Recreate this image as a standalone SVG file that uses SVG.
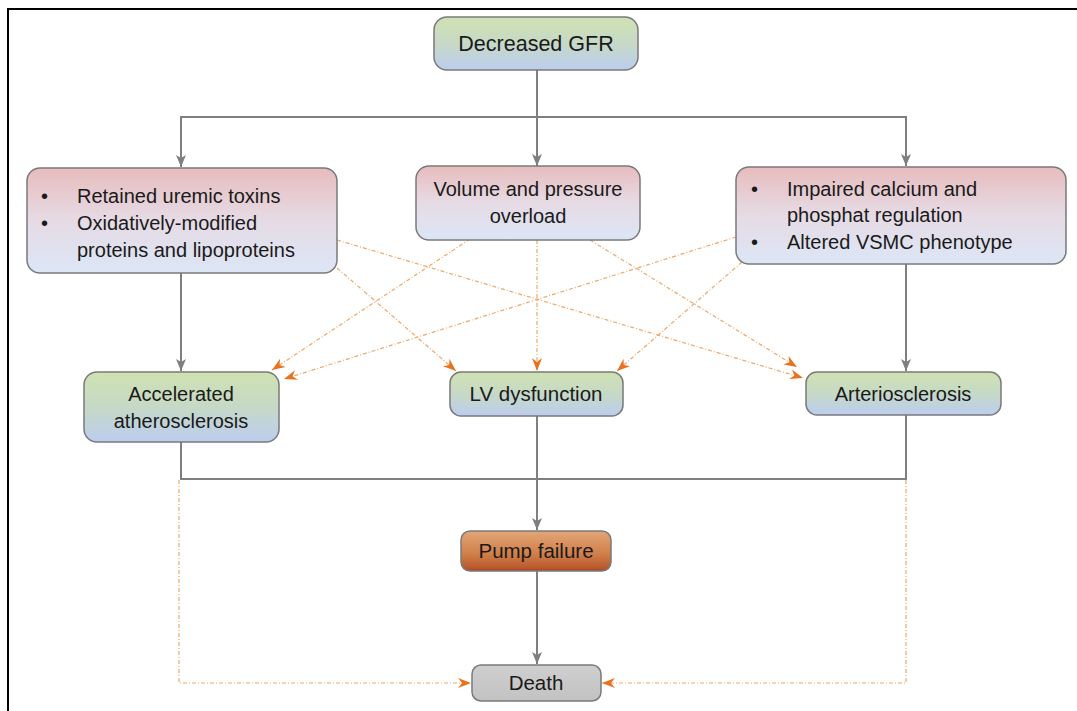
<svg xmlns="http://www.w3.org/2000/svg" width="1077" height="711" viewBox="0 0 1077 711">
<defs>
<linearGradient id="gRed" x1="0" y1="0" x2="0" y2="1">
<stop offset="0" stop-color="#e7bcbd"/>
<stop offset="0.5" stop-color="#e6dbe5"/>
<stop offset="1" stop-color="#dce6f6"/>
</linearGradient>
<linearGradient id="gGreen" x1="0" y1="0" x2="0" y2="1">
<stop offset="0" stop-color="#cfe2b2"/>
<stop offset="0.5" stop-color="#c6d9c6"/>
<stop offset="1" stop-color="#bccdf0"/>
</linearGradient>
<linearGradient id="gOrange" x1="0" y1="0" x2="0" y2="1">
<stop offset="0" stop-color="#e4a677"/>
<stop offset="0.6" stop-color="#cf7d48"/>
<stop offset="0.92" stop-color="#b8592c"/>
<stop offset="1" stop-color="#b0402a"/>
</linearGradient>
<linearGradient id="gGray" x1="0" y1="0" x2="0" y2="1">
<stop offset="0" stop-color="#cfcfcf"/>
<stop offset="1" stop-color="#c2c2c2"/>
</linearGradient>
<marker id="ag" markerUnits="userSpaceOnUse" markerWidth="12" markerHeight="12" refX="12" refY="6" orient="auto">
<path d="M0,1 L12,6 L0,11 L3,6 z" fill="#7f7f7f"/>
</marker>
<marker id="ao" markerUnits="userSpaceOnUse" markerWidth="13" markerHeight="12" refX="13" refY="6" orient="auto">
<path d="M0,1 L13,6 L0,11 L4,6 z" fill="#e8731e"/>
</marker>
</defs>
<style>
.box{stroke:#7a7a7a;stroke-width:1.5}
.t{font-family:"Liberation Sans",Arial,sans-serif;font-size:20px;fill:#1a1a1a}
.c{text-anchor:middle}
.g{fill:none;stroke:#7f7f7f;stroke-width:2}
.o{fill:none;stroke:#eea769;stroke-width:1.2;stroke-dasharray:4 2 1 2}
</style>
<rect width="1077" height="711" fill="#ffffff"/>
<path d="M8,711 L8,9 L1077,9" fill="none" stroke="#000" stroke-width="2"/>
<g id="connectors">
<path class="g" d="M537,70 L537,166" marker-end="url(#ag)"/>
<path class="g" d="M181,117 L906,117"/>
<path class="g" d="M181,116 L181,167" marker-end="url(#ag)"/>
<path class="g" d="M906,116 L906,166" marker-end="url(#ag)"/>
<path class="g" d="M181,273 L181,371" marker-end="url(#ag)"/>
<path class="g" d="M906,264 L906,371" marker-end="url(#ag)"/>
<path class="g" d="M181,442 L181,479 L906,479 L906,415"/>
<path class="g" d="M537,416 L537,530" marker-end="url(#ag)"/>
<path class="g" d="M537,571 L537,664" marker-end="url(#ag)"/>
<path class="o" d="M470,239 L272,370" marker-end="url(#ao)"/>
<path class="o" d="M736,237 L284,379" marker-end="url(#ao)"/>
<path class="o" d="M337,240 L803,378" marker-end="url(#ao)"/>
<path class="o" d="M337,268 L456,371" marker-end="url(#ao)"/>
<path class="o" d="M537,240 L537,371" marker-end="url(#ao)"/>
<path class="o" d="M742,262 L617,371" marker-end="url(#ao)"/>
<path class="o" d="M590,240 L797,367" marker-end="url(#ao)"/>
<path class="o" d="M179,480 L179,683 L471,683" marker-end="url(#ao)"/>
<path class="o" d="M906,480 L906,683 L602,683" marker-end="url(#ao)"/>
</g>
<g id="n-gfr">
<rect class="box" x="434" y="17" width="204" height="53" rx="13" fill="url(#gGreen)"/>
<text class="t c" x="536" y="51" style="font-size:21.5px">Decreased GFR</text>
</g>
<g id="n-toxins">
<rect class="box" x="27" y="168" width="310" height="105" rx="13" fill="url(#gRed)"/>
<text class="t" x="41" y="203">•</text>
<text class="t" x="77" y="203">Retained uremic toxins</text>
<text class="t" x="41" y="230">•</text>
<text class="t" x="77" y="230">Oxidatively-modified</text>
<text class="t" x="77" y="257">proteins and lipoproteins</text>
</g>
<g id="n-volume">
<rect class="box" x="416" y="166" width="224" height="74" rx="13" fill="url(#gRed)"/>
<text class="t c" x="528" y="196">Volume and pressure</text>
<text class="t c" x="528" y="223">overload</text>
</g>
<g id="n-calcium">
<rect class="box" x="736" y="167" width="330" height="97" rx="13" fill="url(#gRed)"/>
<text class="t" x="751" y="196">•</text>
<text class="t" x="787" y="196">Impaired calcium and</text>
<text class="t" x="787" y="222">phosphat regulation</text>
<text class="t" x="751" y="249">•</text>
<text class="t" x="787" y="249">Altered VSMC phenotype</text>
</g>
<g id="n-athero">
<rect class="box" x="84" y="372" width="195" height="70" rx="13" fill="url(#gGreen)"/>
<text class="t c" x="181" y="401">Accelerated</text>
<text class="t c" x="181" y="428">atherosclerosis</text>
</g>
<g id="n-lv">
<rect class="box" x="450" y="372" width="173" height="44" rx="11" fill="url(#gGreen)"/>
<text class="t c" x="536" y="401" style="font-size:20.5px">LV dysfunction</text>
</g>
<g id="n-arterio">
<rect class="box" x="806" y="372" width="195" height="43" rx="11" fill="url(#gGreen)"/>
<text class="t c" x="903" y="401">Arteriosclerosis</text>
</g>
<g id="n-pump">
<rect class="box" x="461" y="531" width="150" height="40" rx="9" fill="url(#gOrange)"/>
<text class="t c" x="536" y="558" style="font-size:20.5px">Pump failure</text>
</g>
<g id="n-death">
<rect class="box" x="472" y="665" width="129" height="36" rx="9" fill="url(#gGray)"/>
<text class="t c" x="536" y="690" style="font-size:20.5px">Death</text>
</g>
</svg>
